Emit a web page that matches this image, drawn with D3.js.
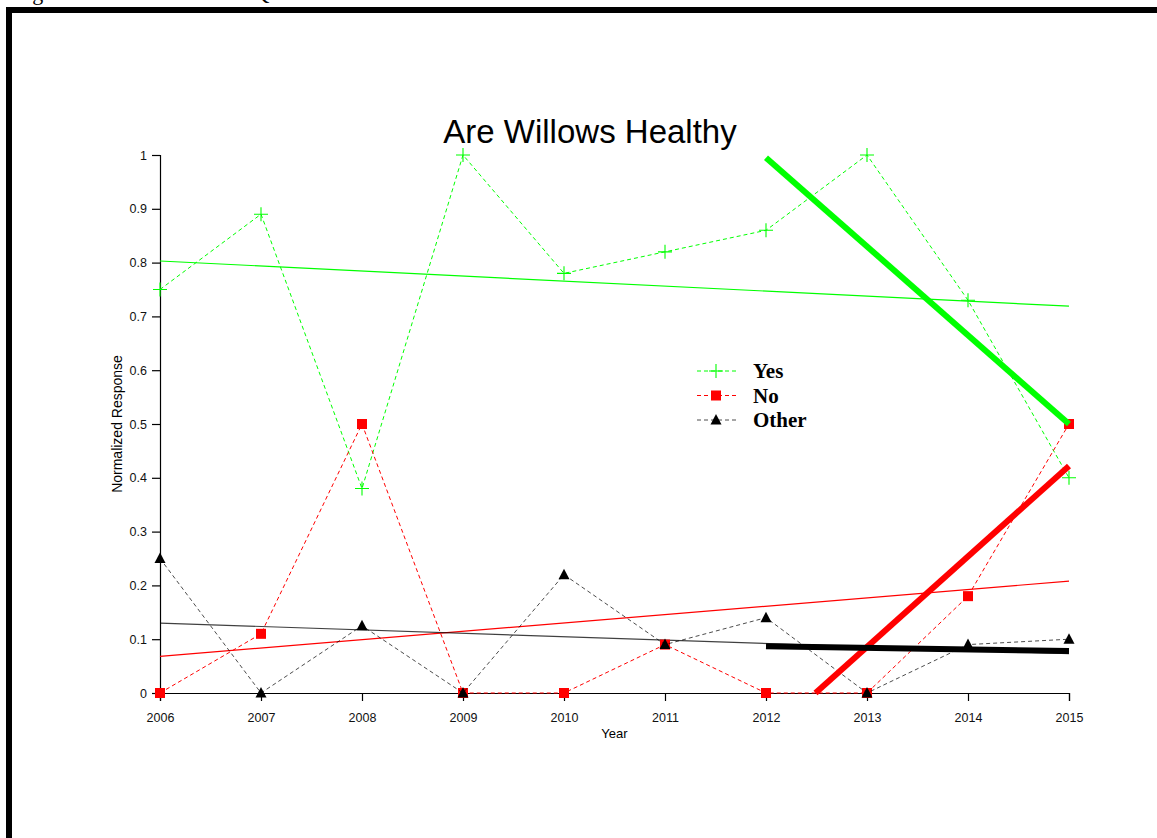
<!DOCTYPE html>
<html>
<head>
<meta charset="utf-8">
<script src="https://cdn.jsdelivr.net/npm/d3@7"></script>
<style>
  html, body { margin: 0; padding: 0; background: #fff; }
  svg { display: block; }
</style>
</head>
<body>
<script>
// Survey responses to "Are Willows Healthy", normalized per year
const years = [2006, 2007, 2008, 2009, 2010, 2011, 2012, 2013, 2014, 2015];
const yesValues   = [0.75, 0.89, 0.38, 1.00, 0.78, 0.82, 0.86, 1.00, 0.73, 0.40];
const noValues    = [0.00, 0.11, 0.50, 0.00, 0.00, 0.09, 0.00, 0.00, 0.18, 0.50];
const otherValues = [0.25, 0.00, 0.125, 0.00, 0.22, 0.09, 0.14, 0.00, 0.09, 0.10];

// Linear fits over the whole period: [year, value] endpoints
const yesTrendAll   = [[2006, 0.803], [2015, 0.719]];
const noTrendAll    = [[2006, 0.068], [2015, 0.208]];
const otherTrendAll = [[2006, 0.130], [2015, 0.073]];

// Linear fits over 2012-2015 (the "No" fit is cut where it crosses zero)
const yesTrendRecent   = [[2012, 0.995], [2015, 0.500]];
const noTrendRecent    = [[2012.49, 0.000], [2015, 0.422]];
const otherTrendRecent = [[2012, 0.087], [2015, 0.078]];

const yTickValues = [0, 0.1, 0.2, 0.3, 0.4, 0.5, 0.6, 0.7, 0.8, 0.9, 1];
const legendLabels = ["Yes", "No", "Other"];

const W = 1157, H = 838;
const svg = d3.select("body").append("svg").attr("width", W).attr("height", H);

// page caption sitting above the frame
svg.append("text")
  .attr("x", 14).attr("y", 0)
  .attr("font-family", "Liberation Serif, Times New Roman, serif")
  .attr("font-size", 22)
  .text("Figure 16: Willows Health Question");

// frame around the figure
svg.append("rect").attr("x", 6).attr("y", 7).attr("width", W).attr("height", 6).attr("fill", "#000");
svg.append("rect").attr("x", 6).attr("y", 7).attr("width", 6).attr("height", H).attr("fill", "#000");

const x = d3.scaleLinear().domain([2006, 2015]).range([160, 1069]);
const y = d3.scaleLinear().domain([0, 1]).range([693, 155]);

const sansFont = "Liberation Sans, Arial, Helvetica, sans-serif";

// axes
const yAxis = svg.append("g")
  .attr("transform", `translate(${x.range()[0]},0)`)
  .call(d3.axisLeft(y).tickValues(yTickValues).tickSize(8).tickPadding(5)
    .tickFormat(d => d3.format("~g")(d)));
const xAxis = svg.append("g")
  .attr("transform", `translate(0,${y(0)})`)
  .call(d3.axisBottom(x).tickValues(years).tickSize(8).tickPadding(12).tickFormat(d3.format("d")));

[yAxis, xAxis].forEach(g => {
  g.select(".domain").attr("stroke", "#000").attr("stroke-width", 1.2);
  g.selectAll(".tick line").attr("stroke", "#000").attr("stroke-width", 1.2);
  g.selectAll(".tick text").attr("font-family", sansFont).attr("font-size", 12.5).attr("fill", "#111");
});

svg.append("text")
  .attr("x", (x.range()[0] + x.range()[1]) / 2).attr("y", 738)
  .attr("text-anchor", "middle")
  .attr("font-family", sansFont).attr("font-size", 13)
  .text("Year");

svg.append("text")
  .attr("transform", `translate(122,${(y(0) + y(1)) / 2}) rotate(-90)`)
  .attr("text-anchor", "middle")
  .attr("font-family", sansFont).attr("font-size", 14)
  .text("Normalized Response");

svg.append("text")
  .attr("x", 590).attr("y", 143)
  .attr("text-anchor", "middle")
  .attr("font-family", sansFont).attr("font-size", 33)
  .text("Are Willows Healthy");

const series = [
  { name: legendLabels[0], values: yesValues,   color: "#00ff00", marker: "plus",
    all: yesTrendAll, recent: yesTrendRecent },
  { name: legendLabels[1], values: noValues,    color: "#ff0000", marker: "square",
    all: noTrendAll, recent: noTrendRecent },
  { name: legendLabels[2], values: otherValues, color: "#000000", marker: "triangle",
    all: otherTrendAll, recent: otherTrendRecent }
];

const line = d3.line().x(d => x(d[0])).y(d => y(d[1]));

function drawMarker(g, kind, color) {
  if (kind === "plus") {
    g.append("path").attr("d", "M-7,0H7M0,-7V7")
      .attr("stroke", color).attr("stroke-width", 1.1).attr("fill", "none");
  } else if (kind === "square") {
    g.append("rect").attr("x", -5).attr("y", -5).attr("width", 10).attr("height", 10).attr("fill", color);
  } else {
    g.append("path").attr("d", "M0,-6L5.5,4.5L-5.5,4.5Z").attr("fill", color);
  }
}

// whole-period fits (thin)
series.forEach(s => {
  svg.append("path").datum(s.all).attr("d", line)
    .attr("fill", "none").attr("stroke", s.color)
    .attr("stroke-width", 1.2).attr("stroke-opacity", s.marker === "triangle" ? 0.75 : 1);
});

// yearly values (dashed) and markers
series.forEach(s => {
  const pts = years.map((yr, i) => [yr, s.values[i]]);
  svg.append("path").datum(pts).attr("d", line)
    .attr("fill", "none").attr("stroke", s.color)
    .attr("stroke-width", 1).attr("stroke-dasharray", "4,3")
    .attr("stroke-opacity", s.marker === "triangle" ? 0.7 : 1);
  pts.forEach(p => {
    const g = svg.append("g").attr("transform", `translate(${x(p[0])},${y(p[1])})`);
    drawMarker(g, s.marker, s.color);
  });
});

// recent fits (thick)
series.forEach(s => {
  svg.append("path").datum(s.recent).attr("d", line)
    .attr("fill", "none").attr("stroke", s.color).attr("stroke-width", 6);
});

// legend
const legend = svg.append("g");
series.forEach((s, i) => {
  const ly = 371 + i * 24.5;
  legend.append("line")
    .attr("x1", 697).attr("x2", 736).attr("y1", ly).attr("y2", ly)
    .attr("stroke", s.color).attr("stroke-width", 1).attr("stroke-dasharray", "4,3")
    .attr("stroke-opacity", s.marker === "triangle" ? 0.7 : 1);
  const g = legend.append("g").attr("transform", `translate(716,${ly})`);
  drawMarker(g, s.marker, s.color);
  legend.append("text")
    .attr("x", 753).attr("y", ly + 7)
    .attr("font-family", "Liberation Serif, Times New Roman, serif")
    .attr("font-weight", "bold").attr("font-size", 21)
    .text(s.name);
});
</script>
</body>
</html>
